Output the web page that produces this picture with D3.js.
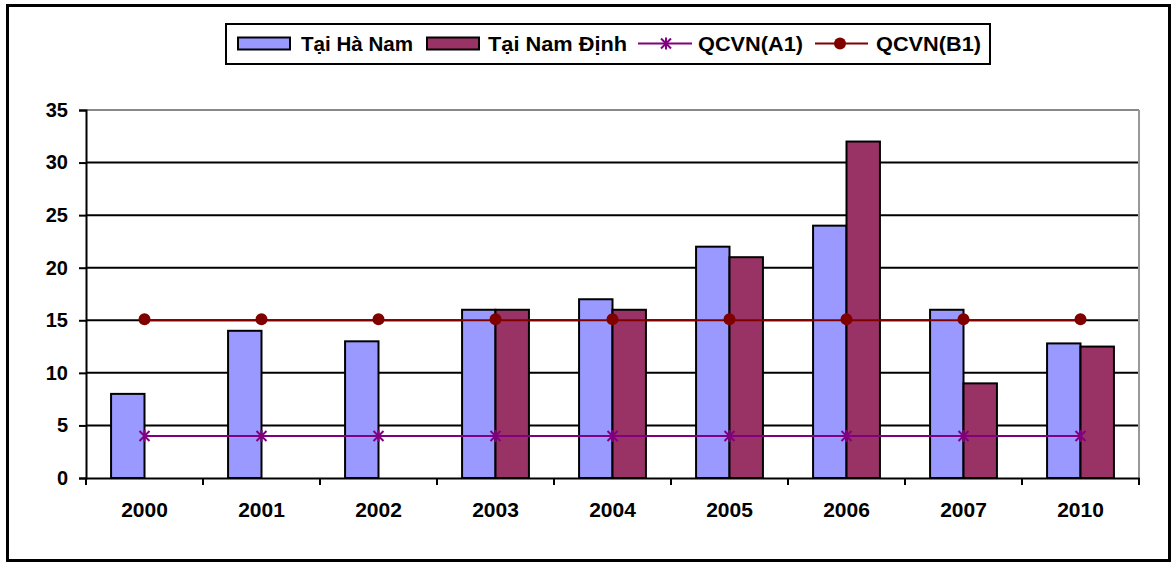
<!DOCTYPE html>
<html>
<head>
<meta charset="utf-8">
<script src="https://cdn.jsdelivr.net/npm/d3@7"></script>
<style>
  body { margin: 0; background: #fff; }
  text { font-family: "Liberation Sans", Arial, sans-serif; font-weight: bold; }
</style>
</head>
<body>
<svg id="chart" width="1171" height="562"></svg>
<script>
// data
var years = ['2000', '2001', '2002', '2003', '2004', '2005', '2006', '2007', '2010'];
var haNam = [8, 14, 13, 16, 17, 22, 24, 16, 12.8];
var namDinh = [null, null, null, 16, 16, 21, 32, 9, 12.5];
var qcvnA1 = [4, 4, 4, 4, 4, 4, 4, 4, 4];
var qcvnB1 = [15, 15, 15, 15, 15, 15, 15, 15, 15];
var yTicks = [0, 5, 10, 15, 20, 25, 30, 35];

var svg = d3.select('#chart');

// outer frame
svg.append('rect')
  .attr('x', 7.5).attr('y', 5.5)
  .attr('width', 1162).attr('height', 555)
  .attr('fill', 'none').attr('stroke', '#000').attr('stroke-width', 3);

var plotLeft = 86, plotRight = 1139, plotTop = 110, plotBottom = 478;

var x = d3.scaleBand().domain(years).range([plotLeft, plotRight]);
var y = d3.scaleLinear().domain([0, 35]).range([plotBottom, plotTop]);
var barW = x.bandwidth() / 3.5;

// gridlines
svg.append('g').selectAll('line')
  .data(yTicks.filter(function (d) { return d > 0; }))
  .enter().append('line')
  .attr('x1', plotLeft).attr('x2', plotRight)
  .attr('y1', function (d) { return y(d); })
  .attr('y2', function (d) { return y(d); })
  .attr('stroke', function (d) { return d === 35 ? '#888' : '#000'; })
  .attr('stroke-width', 2);

// right edge of plot area
svg.append('line')
  .attr('x1', plotRight).attr('x2', plotRight).attr('y1', plotTop).attr('y2', plotBottom)
  .attr('stroke', '#999').attr('stroke-width', 2);

// bars
function drawBars(values, color, offset) {
  svg.append('g').selectAll('rect')
    .data(values.map(function (v, i) { return { year: years[i], v: v }; })
      .filter(function (d) { return d.v != null; }))
    .enter().append('rect')
    .attr('x', function (d) { return x(d.year) + x.bandwidth() / 2 + offset; })
    .attr('y', function (d) { return y(d.v); })
    .attr('width', barW)
    .attr('height', function (d) { return plotBottom - y(d.v); })
    .attr('fill', color)
    .attr('stroke', '#000')
    .attr('stroke-width', 2);
}
drawBars(haNam, '#9999ff', -barW);
drawBars(namDinh, '#993366', 0);

// y axis
var yAxis = d3.axisLeft(y).tickValues(yTicks).tickSize(7).tickPadding(11);
var gy = svg.append('g').attr('transform', 'translate(' + plotLeft + ',0)').call(yAxis);
gy.select('.domain').attr('stroke', '#000').attr('stroke-width', 2);
gy.selectAll('.tick line').attr('stroke', '#000').attr('stroke-width', 2);
gy.selectAll('.tick text').attr('font-size', 20).attr('fill', '#000')
  .style('font-family', '"Liberation Sans", Arial, sans-serif').style('font-weight', 'bold');

// x axis
var gx = svg.append('g').attr('transform', 'translate(0,' + plotBottom + ')')
  .call(d3.axisBottom(x).tickSize(0).tickPadding(24));
gx.select('.domain').attr('stroke', '#000').attr('stroke-width', 2);
gx.selectAll('.tick text').attr('font-size', 21).attr('fill', '#000')
  .style('font-family', '"Liberation Sans", Arial, sans-serif').style('font-weight', 'bold');
svg.append('g').selectAll('line')
  .data(years.concat(['end']))
  .enter().append('line')
  .attr('x1', function (d, i) { return plotLeft + i * x.step(); })
  .attr('x2', function (d, i) { return plotLeft + i * x.step(); })
  .attr('y1', plotBottom).attr('y2', plotBottom + 7)
  .attr('stroke', '#000').attr('stroke-width', 2);

// lines
function cx(d, i) { return x(years[i]) + x.bandwidth() / 2; }
var line = d3.line().x(cx).y(function (d) { return y(d); });
var star = 'M-5,-5L5,5M-5,5L5,-5M0,-6L0,6';

svg.append('path').datum(qcvnA1).attr('d', line)
  .attr('fill', 'none').attr('stroke', '#800080').attr('stroke-width', 2);
svg.append('g').selectAll('path')
  .data(qcvnA1).enter().append('path')
  .attr('transform', function (d, i) { return 'translate(' + cx(d, i) + ',' + y(d) + ')'; })
  .attr('d', star)
  .attr('stroke', '#800080').attr('stroke-width', 2);

svg.append('path').datum(qcvnB1).attr('d', line)
  .attr('fill', 'none').attr('stroke', '#800000').attr('stroke-width', 2);
svg.append('g').selectAll('circle')
  .data(qcvnB1).enter().append('circle')
  .attr('cx', cx)
  .attr('cy', function (d) { return y(d) - 1; })
  .attr('r', 6)
  .attr('fill', '#800000');

// legend
var lg = svg.append('g');
lg.append('rect').attr('x', 226).attr('y', 24).attr('width', 764).attr('height', 40)
  .attr('fill', '#fff').attr('stroke', '#000').attr('stroke-width', 2);
var ly = 43.5;
lg.append('rect').attr('x', 238).attr('y', ly - 6).attr('width', 52).attr('height', 12)
  .attr('fill', '#9999ff').attr('stroke', '#000').attr('stroke-width', 2);
lg.append('rect').attr('x', 427).attr('y', ly - 6).attr('width', 52).attr('height', 12)
  .attr('fill', '#993366').attr('stroke', '#000').attr('stroke-width', 2);
lg.append('line').attr('x1', 638).attr('x2', 692).attr('y1', ly).attr('y2', ly)
  .attr('stroke', '#800080').attr('stroke-width', 2);
lg.append('path').attr('transform', 'translate(666,' + ly + ')')
  .attr('d', star)
  .attr('stroke', '#800080').attr('stroke-width', 2);
lg.append('line').attr('x1', 815).attr('x2', 868).attr('y1', ly).attr('y2', ly)
  .attr('stroke', '#800000').attr('stroke-width', 2);
lg.append('circle').attr('cx', 840).attr('cy', ly).attr('r', 6).attr('fill', '#800000');

var labels = [['Tại Hà Nam', 301, 112], ['Tại Nam Định', 488, 139], ['QCVN(A1)', 698, 105], ['QCVN(B1)', 876, 105]];
lg.selectAll('text.lbl').data(labels).enter().append('text')
  .attr('class', 'lbl')
  .attr('x', function (d) { return d[1]; })
  .attr('y', ly + 7.5)
  .attr('font-size', 21)
  .attr('textLength', function (d) { return d[2]; })
  .attr('lengthAdjust', 'spacingAndGlyphs')
  .text(function (d) { return d[0]; });
</script>
</body>
</html>
